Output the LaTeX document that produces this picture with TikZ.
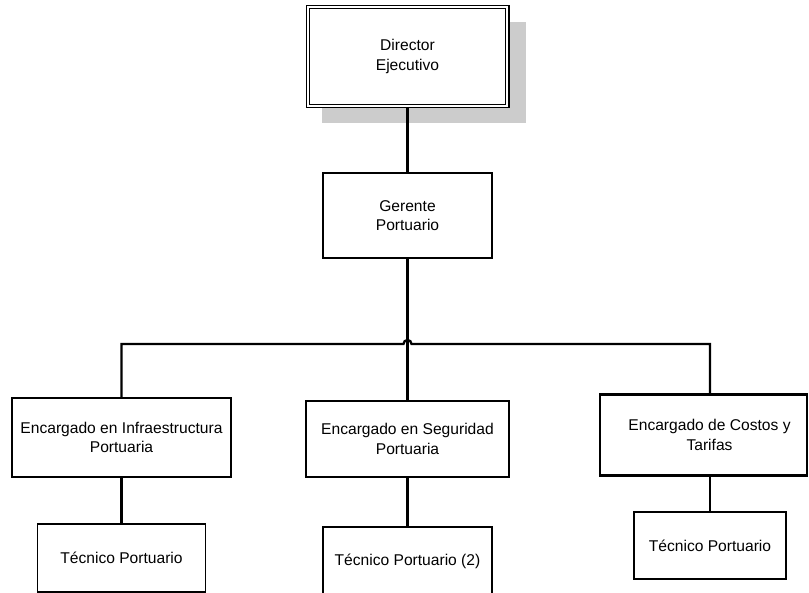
\documentclass[tikz,border=0pt]{standalone}
\usepackage{fontspec}
\setmainfont{Liberation Sans}
\usetikzlibrary{backgrounds}
\begin{document}
\begin{tikzpicture}[x=1pt,y=-1pt,
  every node/.style={inner sep=0pt, align=center, font=\fontsize{15.6}{19.5}\selectfont},
  headbox/.style={draw, fill=white, line width=1.2pt, double=white, double distance=2pt},
  mainbox/.style={draw, fill=white, line width=2.3pt},
  staffbox/.style={draw, fill=white, line width=1.2pt},
  link/.style={line width=2.3pt},
  shade/.style={fill=black!20, draw=none}]
\useasboundingbox (0,0) rectangle (809,593);
\clip (0,0) rectangle (809,593);

% boxes
\node[headbox, minimum width=199.6pt, minimum height=98.6pt] (dir) at (407.5,56.5) {Director\\Ejecutivo};
\node[mainbox, minimum width=169pt, minimum height=85pt] (ger) at (407.5,215.5) {Gerente\\Portuario};

\node[mainbox, minimum width=219pt, minimum height=79pt] (inf) at (121.5,437.5) {Encargado en Infraestructura\\Portuaria};
\node[mainbox, minimum width=203pt, minimum height=76pt] (seg) at (407.5,439) {Encargado en Seguridad\\Portuaria};
\node[mainbox, minimum width=207pt, minimum height=81pt] (cos) at (703.5,435) {\hspace*{12pt}Encargado de Costos y\\\hspace*{12pt}Tarifas};

\node[staffbox, minimum width=168pt, minimum height=68pt] (tec1) at (121.5,558) {T\'ecnico Portuario};
\node[staffbox, minimum width=169pt, minimum height=68pt] (tec2) at (407.5,561) {T\'ecnico Portuario (2)};
\node[staffbox, minimum width=152pt, minimum height=67pt] (tec3) at (710,545.5) {T\'ecnico Portuario};

\coordinate (bus) at (407.5,344);
\coordinate (cosin) at (710,344);

\begin{scope}[on background layer]
  % drop shadow of the top box
  \fill[shade] (322,22) rectangle (526,123);
  % reporting lines
  \draw[link] (dir.south) -- (ger.north);
  \draw[link] (ger.south) -- (seg.north);
  \draw[link] (inf.north) -- (inf.north |- bus) -- ([xshift=-4pt]bus)
     arc[start angle=180, end angle=0, radius=4pt] -- (cosin) -- (cosin |- cos.north);
  \draw[link] (inf.south) -- (tec1.north);
  \draw[link] (seg.south) -- (tec2.north);
  \draw[link] (cosin |- cos.south) -- (tec3.north);
\end{scope}
\end{tikzpicture}
\end{document}
